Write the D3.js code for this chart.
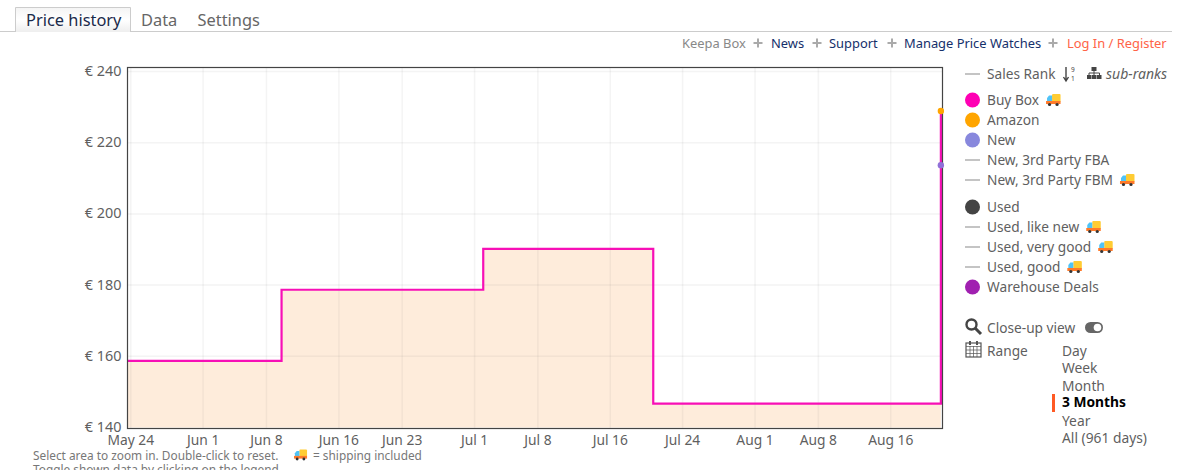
<!DOCTYPE html>
<html><head><meta charset="utf-8">
<script src="https://cdnjs.cloudflare.com/ajax/libs/d3/7.8.5/d3.min.js"></script>
<style>html,body{margin:0;padding:0;background:#fff;overflow:hidden}text{font-family:"Noto Sans","Open Sans",sans-serif}</style>
</head><body><svg id="c" width="1182" height="470"></svg>
<script>
const yTickValues=[140,160,180,200,220,240];
const xTickDates=["2023-05-24","2023-06-01","2023-06-08","2023-06-16","2023-06-23","2023-07-01","2023-07-08","2023-07-16","2023-07-24","2023-08-01","2023-08-08","2023-08-16"];
const stepDates=["2023-05-23T14:00","2023-06-09T16:00","2023-07-01T23:00","2023-07-20T18:00","2023-08-21T13:00"];
const buyBoxPrices=[158.7,178.7,190.2,146.7,228.9];
const amazonPoint={date:"2023-08-21T13:00",price:228.9};
const newPoint={date:"2023-08-21T13:00",price:213.7};
const tabs=["Price history","Data","Settings"];
const navLinks=["Keepa Box","News","Support","Manage Price Watches","Log In / Register"];
const legendNames=["Sales Rank","Buy Box","Amazon","New","New, 3rd Party FBA","New, 3rd Party FBM","Used","Used, like new","Used, very good","Used, good","Warehouse Deals"];
const legendColors=[null,"#ff00b4","#ffa500","#8888dd",null,null,"#444444",null,null,null,"#a020b0"];
const legendTruck=[0,1,0,0,0,1,0,1,1,1,0];
const legendY=[74,100,120,140,160,180,207,227,247,267,287];
const rangeNames=["Day","Week","Month","3 Months","Year","All (961 days)"];
const rangeY=[351,368,386,402,421,438];

const svg=d3.select("#c");
const P=s=>new Date(s);
const box={l:127,r:942,t:67,b:428};
const x=d3.scaleTime().domain([P("2023-05-23T14:00"),P("2023-08-21T16:00")]).range([box.l,box.r]);
const y=d3.scaleLinear().domain([140,240]).range([427.5,71.5]);
const TXT="#5f5f5f";

// tabs
svg.append("line").attr("x1",0).attr("x2",1172).attr("y1",31.5).attr("y2",31.5).attr("stroke","#ccc");
const grad=svg.append("defs").append("linearGradient").attr("id","tg").attr("x2",0).attr("y2",1);
grad.append("stop").attr("offset",0).attr("stop-color","#f4f4f4");
grad.append("stop").attr("offset",.5).attr("stop-color","#fff");
grad.append("stop").attr("offset",1).attr("stop-color","#eee");
svg.append("path").attr("d","M15.5 32V7.5H130.5V32").attr("fill","url(#tg)").attr("stroke","#ccc");
const tabX=[26,141,197.5];
tabs.forEach((t,i)=>svg.append("text").attr("x",tabX[i]).attr("y",26).attr("font-size",16.4).attr("fill",i?"#666":"#1a2a4a").text(t));

// top links
const navX=[682,771,829,904,1067], navC=["#888","#15306b","#15306b","#15306b","#ff6347"];
navLinks.forEach((t,i)=>svg.append("text").attr("x",navX[i]).attr("y",48).attr("font-size",12.9).attr("fill",navC[i]).text(t));
[758,817,892,1053].forEach(cx=>{
  const g=svg.append("g").attr("transform",`translate(${cx},43)`).attr("fill","#aaa");
  g.append("rect").attr("x",-4.5).attr("y",-1).attr("width",9).attr("height",2);
  g.append("rect").attr("x",-1).attr("y",-4.5).attr("width",2).attr("height",9);
});

// plot
svg.append("rect").attr("x",box.l).attr("y",box.t).attr("width",box.r-box.l).attr("height",box.b-box.t).attr("fill","#fff");
const data=stepDates.map((d,i)=>({d:P(d),v:buyBoxPrices[i]}));
const fillData=data.slice(0,4).concat([{d:data[4].d,v:data[3].v}]);
const line=d3.line().x(p=>x(p.d)).y(p=>y(p.v)).curve(d3.curveStepAfter);
const area=d3.area().x(p=>x(p.d)).y0(y(140)).y1(p=>y(p.v)).curve(d3.curveStepAfter);
svg.append("path").datum(fillData).attr("d",area).attr("fill","#feecdb");
const grid=svg.append("g");
grid.selectAll(".gx").data(xTickDates).join("line").attr("x1",d=>x(P(d))).attr("x2",d=>x(P(d))).attr("y1",box.t).attr("y2",box.b).attr("stroke","rgba(120,120,120,.08)").attr("stroke-width",1.5);
grid.selectAll(".gy").data(yTickValues.slice(1)).join("line").attr("x1",box.l).attr("x2",box.r).attr("y1",d=>y(d)).attr("y2",d=>y(d)).attr("stroke","rgba(120,120,120,.08)").attr("stroke-width",1.5);
svg.append("path").datum(data).attr("d",line).attr("fill","none").attr("stroke","#f70fb6").attr("stroke-width",2.2);
svg.append("rect").attr("x",box.l+.5).attr("y",box.t+.5).attr("width",box.r-box.l).attr("height",box.b-box.t).attr("fill","none").attr("stroke","#444").attr("stroke-width",1.2);
svg.append("circle").attr("cx",x(P(amazonPoint.date))).attr("cy",y(amazonPoint.price)).attr("r",3.2).attr("fill","#ffa500");
svg.append("circle").attr("cx",x(P(newPoint.date))).attr("cy",y(newPoint.price)).attr("r",3.2).attr("fill","#9070d8");

// axes
const fmt=d3.timeFormat("%b %-d");
svg.selectAll(".xl").data(xTickDates).join("text").attr("x",d=>x(P(d))).attr("y",445).attr("text-anchor","middle").attr("font-size",13.8).attr("fill",TXT).text(d=>fmt(P(d)));
svg.selectAll(".yl").data(yTickValues).join("text").attr("x",121.5).attr("y",d=>y(d)+4.5).attr("text-anchor","end").attr("font-size",14.4).attr("fill",TXT).text(d=>"€ "+d);

// truck icon
function truck(px,py,s=1){
  const g=svg.append("g").attr("transform",`translate(${px},${py}) scale(${s})`);
  g.append("rect").attr("x",6).attr("y",-6).attr("width",8.5).attr("height",8).attr("rx",1).attr("fill","#ffcc33");
  g.append("path").attr("d","M1 -2L3 -4.5H6V2H1Z").attr("fill","#4fc3f7");
  g.append("rect").attr("x",0).attr("y",1).attr("width",14.5).attr("height",3).attr("fill","#ff7a2a");
  [3.5,11].forEach(c=>g.append("circle").attr("cx",c).attr("cy",4.5).attr("r",1.6).attr("fill","#333"));
}
// legend
const lx=965, tx=987;
legendNames.forEach((n,i)=>{
  const c=legendColors[i], yy=legendY[i];
  if(c) svg.append("circle").attr("cx",972.5).attr("cy",yy).attr("r",7.5).attr("fill",c);
  else svg.append("line").attr("x1",lx).attr("x2",lx+15).attr("y1",yy).attr("y2",yy).attr("stroke","#c4c4c4").attr("stroke-width",2);
  const t=svg.append("text").attr("x",tx).attr("y",yy+5).attr("font-size",13.7).attr("fill",TXT).text(n);
  if(legendTruck[i]) truck(tx+t.node().getComputedTextLength()+7,yy);
});
// sales-rank icons
svg.append("text").attr("x",1106).attr("y",79).attr("font-size",14).attr("fill",TXT).attr("font-style","italic").text("sub-ranks");
svg.append("path").attr("d","M1066 67V80M1063.5 77L1066 81L1068.5 77").attr("fill","none").attr("stroke","#444").attr("stroke-width",1.4);
svg.append("text").attr("x",1071).attr("y",72).attr("font-size",6.5).attr("fill","#444").text("9");
svg.append("text").attr("x",1071).attr("y",81).attr("font-size",6.5).attr("fill","#444").text("1");
const sm=svg.append("g").attr("fill","#444");
[[1091.5,67,5,4],[1087,75,4.5,4],[1092,75,4.5,4],[1097,75,4.5,4]].forEach(r=>sm.append("rect").attr("x",r[0]).attr("y",r[1]).attr("width",r[2]).attr("height",r[3]));
sm.append("path").attr("d","M1089 75V73H1099.5V75M1094 71V75").attr("fill","none").attr("stroke","#444");

// close-up
svg.append("circle").attr("cx",971.5).attr("cy",324.5).attr("r",5).attr("fill","none").attr("stroke","#444").attr("stroke-width",2.4);
svg.append("line").attr("x1",975).attr("y1",328).attr("x2",981).attr("y2",334).attr("stroke","#444").attr("stroke-width",3);
svg.append("text").attr("x",tx).attr("y",333).attr("font-size",13.7).attr("fill",TXT).text("Close-up view");
svg.append("rect").attr("x",1085).attr("y",322).attr("width",18).attr("height",11).attr("rx",5.5).attr("fill","#666");
svg.append("circle").attr("cx",1097.5).attr("cy",327.5).attr("r",3.8).attr("fill","#fff");
// calendar
const cal=svg.append("g").attr("stroke","#555").attr("fill","none");
cal.append("rect").attr("x",966).attr("y",343).attr("width",15).attr("height",14).attr("stroke-width",1.2);
cal.append("path").attr("d","M966 346.5H981M966 350H981M966 353.5H981M970 346V357M973.5 346V357M977 346V357").attr("stroke-width",.7);
cal.append("path").attr("d","M970 341V345M977 341V345").attr("stroke-width",2);
svg.append("text").attr("x",tx).attr("y",356).attr("font-size",13.7).attr("fill",TXT).text("Range");
// range
rangeNames.forEach((n,i)=>svg.append("text").attr("x",1062).attr("y",rangeY[i]+5).attr("font-size",13.8).attr("font-weight",i==3?700:400).attr("fill",i==3?"#000":TXT).text(n));
svg.append("rect").attr("x",1052).attr("y",394).attr("width",3).attr("height",18).attr("fill","#ff5a24");

// footer
svg.append("text").attr("x",33).attr("y",460).attr("font-size",11.85).attr("fill","#777").text("Select area to zoom in. Double-click to reset.");
truck(294,455,.9);
svg.append("text").attr("x",313).attr("y",460).attr("font-size",11.85).attr("fill","#777").text("= shipping included");
svg.append("text").attr("x",33).attr("y",474).attr("font-size",11.85).attr("fill","#777").text("Toggle shown data by clicking on the legend.");
</script></body></html>
